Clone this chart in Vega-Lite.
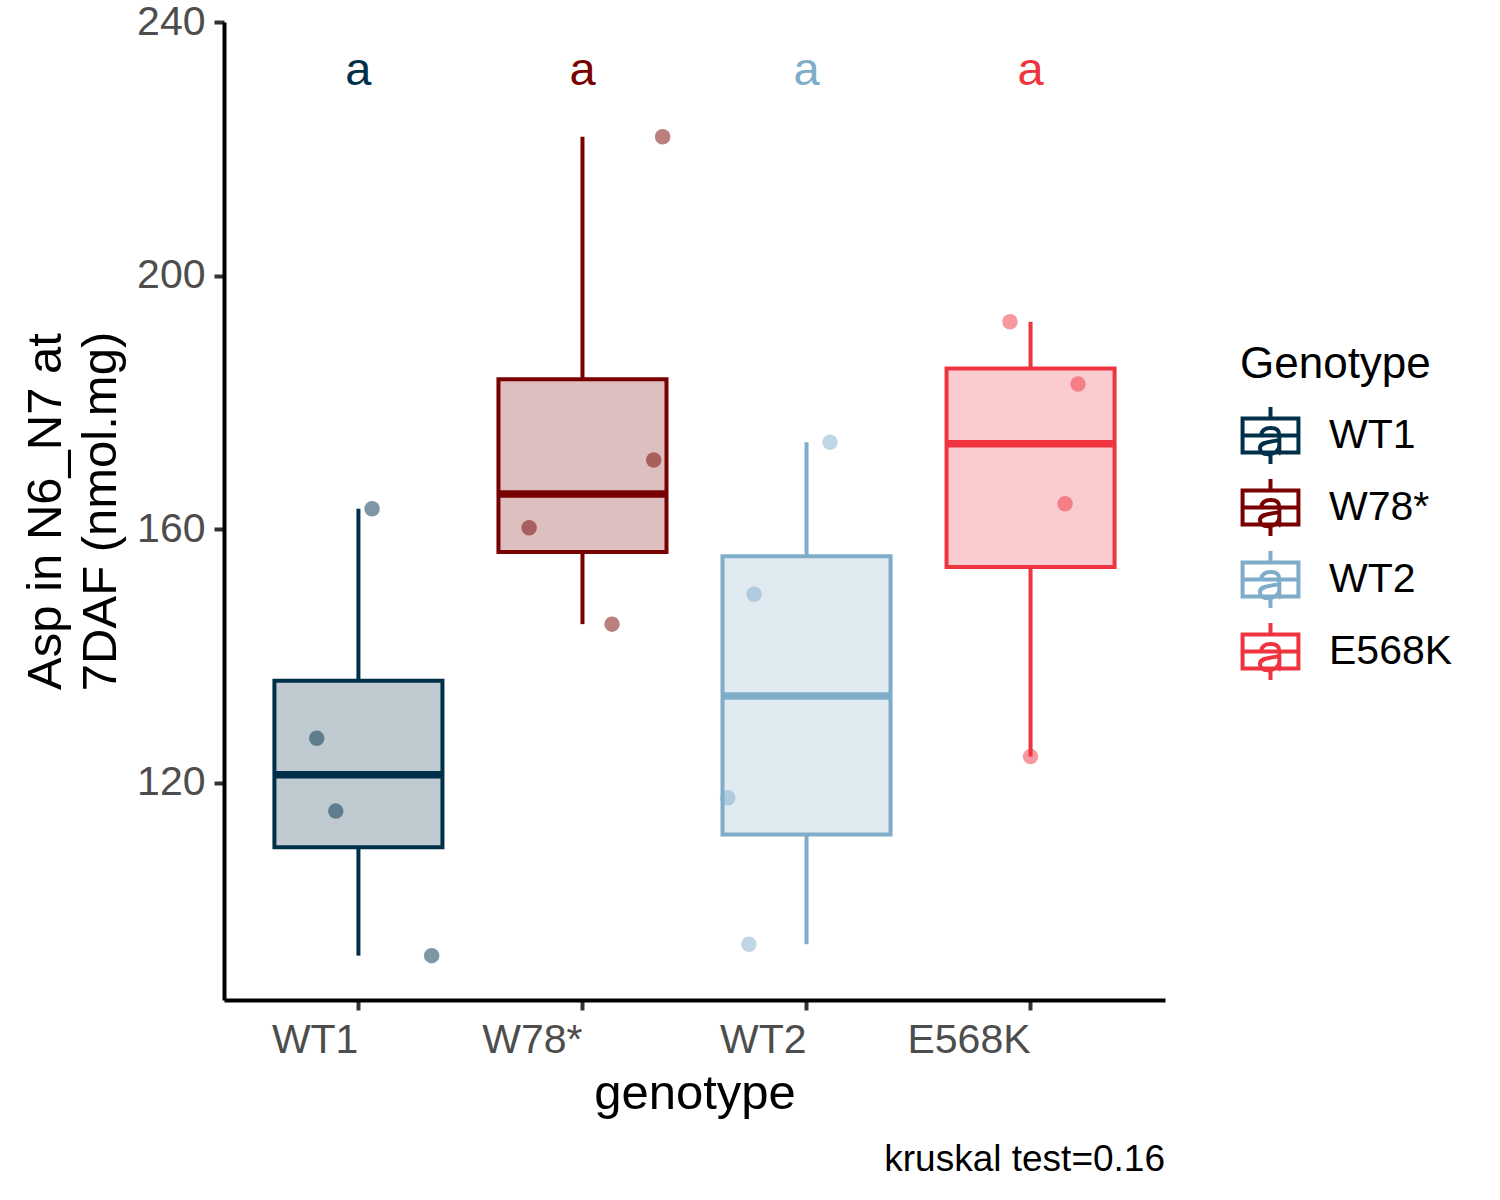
{
  "$schema": "https://vega.github.io/schema/vega-lite/v6.json",
  "width": 941,
  "height": 978,
  "autosize": {"type": "none"},
  "padding": {"left": 224, "top": 22, "right": 335, "bottom": 200},
  "background": "white",
  "config": {
    "font": "Liberation Sans",
    "view": {"stroke": null},
    "axis": {
      "grid": false,
      "domainColor": "black",
      "domainWidth": 4,
      "tickColor": "#333333",
      "tickWidth": 4,
      "tickSize": 10,
      "labelColor": "#4D4D4D",
      "labelFontSize": 41,
      "labelPadding": 9,
      "titleFontSize": 49,
      "titleColor": "black",
      "titleFontWeight": "normal"
    },
    "legend": {
      "titleFontSize": 44,
      "titleFontWeight": "normal",
      "titleColor": "black",
      "titleLimit": 500,
      "labelFontSize": 41,
      "labelColor": "black",
      "labelLimit": 500,
      "padding": 0
    }
  },
  "title": {
    "text": "kruskal test=0.16",
    "orient": "bottom",
    "anchor": "end",
    "frame": "group",
    "fontSize": 37,
    "fontWeight": "normal",
    "color": "black",
    "offset": 24
  },
  "datasets": {
    "obs": [
      {"genotype": "WT1", "value": 163.2, "jitter": 0.061},
      {"genotype": "WT1", "value": 127.0, "jitter": -0.186},
      {"genotype": "WT1", "value": 115.5, "jitter": -0.101},
      {"genotype": "WT1", "value": 92.7, "jitter": 0.327},
      {"genotype": "W78*", "value": 221.9, "jitter": 0.358},
      {"genotype": "W78*", "value": 170.9, "jitter": 0.318},
      {"genotype": "W78*", "value": 160.2, "jitter": -0.238},
      {"genotype": "W78*", "value": 145.0, "jitter": 0.132},
      {"genotype": "WT2", "value": 173.7, "jitter": 0.105},
      {"genotype": "WT2", "value": 149.7, "jitter": -0.234},
      {"genotype": "WT2", "value": 117.6, "jitter": -0.352},
      {"genotype": "WT2", "value": 94.5, "jitter": -0.257},
      {"genotype": "E568K", "value": 192.7, "jitter": -0.092},
      {"genotype": "E568K", "value": 182.9, "jitter": 0.212},
      {"genotype": "E568K", "value": 164.0, "jitter": 0.154},
      {"genotype": "E568K", "value": 124.1, "jitter": 0.0}
    ],
    "letters": [
      {"genotype": "WT1", "label": "a", "y": 233},
      {"genotype": "W78*", "label": "a", "y": 233},
      {"genotype": "WT2", "label": "a", "y": 233},
      {"genotype": "E568K", "label": "a", "y": 233}
    ]
  },
  "encoding": {
    "x": {
      "field": "genotype",
      "type": "nominal",
      "scale": {
        "domain": ["WT1", "W78*", "WT2", "E568K"],
        "paddingInner": 0.25,
        "paddingOuter": 0.225
      },
      "axis": {
        "labelAngle": 0,
        "labelAlign": "right",
        "labelBaseline": "top",
        "labelPadding": 10,
        "titlePadding": 9
      },
      "title": "genotype"
    }
  },
  "resolve": {"scale": {"xOffset": "independent"}},
  "layer": [
    {
      "data": {"name": "obs"},
      "transform": [
        {"aggregate": [{"op": "median", "field": "value", "as": "mid"}], "groupby": ["genotype"]}
      ],
      "mark": {"type": "point", "filled": false, "opacity": 1, "size": 1, "strokeWidth": 4},
      "encoding": {
        "y": {
          "field": "mid",
          "type": "quantitative",
          "scale": {"domain": [85.7, 240], "nice": false, "zero": false},
          "axis": {"values": [120, 160, 200, 240], "titleLineHeight": 55, "titlePadding": 11},
          "title": ["Asp in N6_N7 at", "7DAF (nmol.mg)"]
        },
        "color": {
          "field": "genotype",
          "type": "nominal",
          "title": "Genotype",
          "scale": {
            "domain": ["WT1", "W78*", "WT2", "E568K"],
            "range": ["#003049", "#780000", "#7FADC9", "#EF3440"]
          },
          "legend": {
            "orient": "none",
            "legendX": 1016,
            "legendY": 321,
            "symbolType": "M-0.98,-0.6H0.98V0.6H-0.98Z M-0.98,0H0.98 M0,-0.6V-1 M0,0.6V1 M-0.33,-0.02C-0.3,-0.2 -0.18,-0.26 0,-0.26C0.24,-0.26 0.31,-0.16 0.31,0L0.31,0.5C0.31,0.58 0.33,0.62 0.37,0.65 M0.31,0.15C0.1,0.24 -0.37,0.18 -0.37,0.44C-0.37,0.58 -0.26,0.66 -0.1,0.66C0.12,0.66 0.31,0.54 0.31,0.36",
            "symbolSize": 3249,
            "symbolStrokeWidth": 4,
            "symbolOpacity": 1,
            "labelOffset": 28,
            "rowPadding": -1,
            "titlePadding": 18
          }
        }
      }
    },
    {
      "data": {"name": "obs"},
      "mark": {"type": "point", "filled": true, "opacity": 0.5, "size": 240},
      "encoding": {
        "xOffset": {
          "field": "jitter",
          "type": "quantitative",
          "scale": {"domain": [-0.5, 0.5], "range": [-28, 196]}
        },
        "y": {
          "field": "value",
          "type": "quantitative",
          "scale": {"domain": [85.7, 240], "nice": false, "zero": false},
          "title": ["Asp in N6_N7 at", "7DAF (nmol.mg)"]
        },
        "fill": {
          "field": "genotype",
          "type": "nominal",
          "scale": {
            "domain": ["E568K", "WT1", "W78*", "WT2"],
            "range": ["#EF3440", "#003049", "#780000", "#7FADC9"]
          },
          "legend": null
        }
      }
    },
    {
      "data": {"name": "obs"},
      "transform": [
        {
          "aggregate": [
            {"op": "min", "field": "value", "as": "lo"},
            {"op": "q1", "field": "value", "as": "q1"},
            {"op": "median", "field": "value", "as": "mid"},
            {"op": "q3", "field": "value", "as": "q3"},
            {"op": "max", "field": "value", "as": "hi"}
          ],
          "groupby": ["genotype"]
        }
      ],
      "layer": [
        {
          "mark": {"type": "rule", "strokeWidth": 4},
          "encoding": {
            "y": {
              "field": "lo",
              "type": "quantitative",
              "scale": {"domain": [85.7, 240], "nice": false, "zero": false},
              "title": ["Asp in N6_N7 at", "7DAF (nmol.mg)"]
            },
            "y2": {"field": "q1"},
            "stroke": {
              "field": "genotype",
              "type": "nominal",
              "scale": {
                "domain": ["E568K", "WT1", "W78*", "WT2"],
                "range": ["#EF3440", "#003049", "#780000", "#7FADC9"]
              },
              "legend": null
            }
          }
        },
        {
          "mark": {"type": "rule", "strokeWidth": 4},
          "encoding": {
            "y": {
              "field": "q3",
              "type": "quantitative",
              "scale": {"domain": [85.7, 240], "nice": false, "zero": false},
              "title": ["Asp in N6_N7 at", "7DAF (nmol.mg)"]
            },
            "y2": {"field": "hi"},
            "stroke": {
              "field": "genotype",
              "type": "nominal",
              "scale": {
                "domain": ["E568K", "WT1", "W78*", "WT2"],
                "range": ["#EF3440", "#003049", "#780000", "#7FADC9"]
              },
              "legend": null
            }
          }
        },
        {
          "mark": {"type": "bar", "opacity": 1, "fillOpacity": 0.25, "strokeWidth": 4},
          "encoding": {
            "y": {
              "field": "q1",
              "type": "quantitative",
              "scale": {"domain": [85.7, 240], "nice": false, "zero": false},
              "title": ["Asp in N6_N7 at", "7DAF (nmol.mg)"]
            },
            "y2": {"field": "q3"},
            "fill": {
              "field": "genotype",
              "type": "nominal",
              "scale": {
                "domain": ["E568K", "WT1", "W78*", "WT2"],
                "range": ["#EF3440", "#003049", "#780000", "#7FADC9"]
              },
              "legend": null
            },
            "stroke": {
              "field": "genotype",
              "type": "nominal",
              "scale": {
                "domain": ["E568K", "WT1", "W78*", "WT2"],
                "range": ["#EF3440", "#003049", "#780000", "#7FADC9"]
              },
              "legend": null
            }
          }
        },
        {
          "mark": {"type": "tick", "opacity": 1, "thickness": 7.5, "size": 168},
          "encoding": {
            "y": {
              "field": "mid",
              "type": "quantitative",
              "scale": {"domain": [85.7, 240], "nice": false, "zero": false},
              "title": ["Asp in N6_N7 at", "7DAF (nmol.mg)"]
            },
            "fill": {
              "field": "genotype",
              "type": "nominal",
              "scale": {
                "domain": ["E568K", "WT1", "W78*", "WT2"],
                "range": ["#EF3440", "#003049", "#780000", "#7FADC9"]
              },
              "legend": null
            }
          }
        }
      ]
    },
    {
      "data": {"name": "letters"},
      "mark": {"type": "text", "fontSize": 47, "baseline": "alphabetic", "dy": 19},
      "encoding": {
        "y": {
          "field": "y",
          "type": "quantitative",
          "scale": {"domain": [85.7, 240], "nice": false, "zero": false},
          "title": ["Asp in N6_N7 at", "7DAF (nmol.mg)"]
        },
        "text": {"field": "label"},
        "fill": {
          "field": "genotype",
          "type": "nominal",
          "scale": {
            "domain": ["E568K", "WT1", "W78*", "WT2"],
            "range": ["#EF3440", "#003049", "#780000", "#7FADC9"]
          },
          "legend": null
        }
      }
    }
  ]
}
